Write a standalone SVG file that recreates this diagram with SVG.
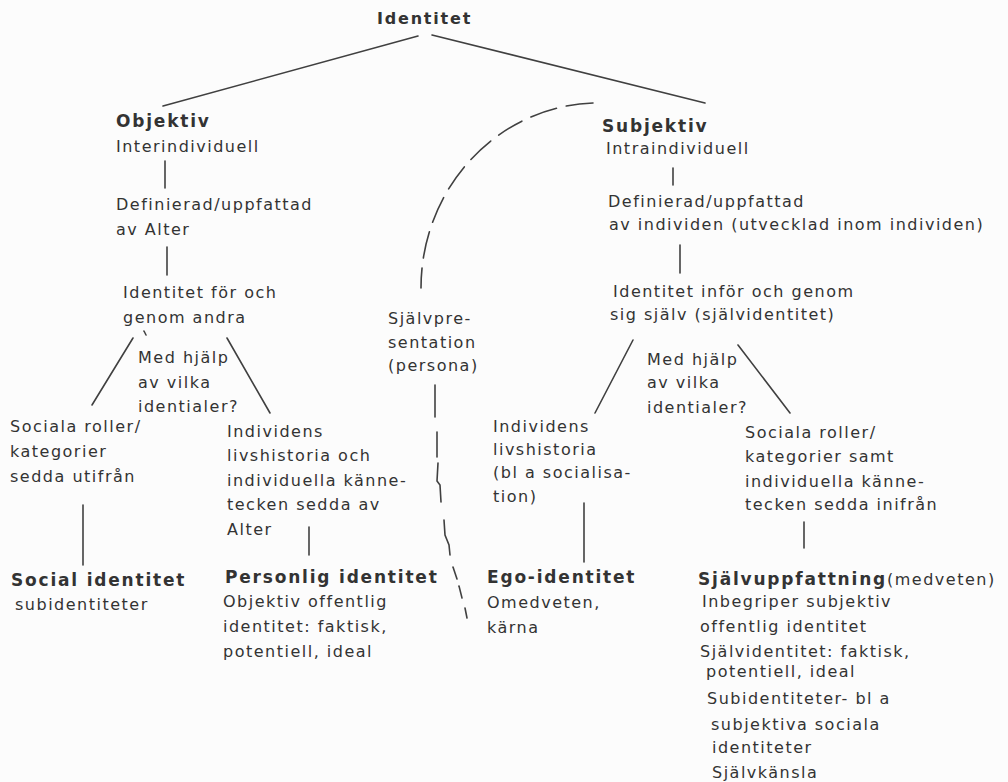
<svg xmlns="http://www.w3.org/2000/svg" width="1008" height="782" viewBox="0 0 1008 782">
<style>
text{font-family:"DejaVu Sans","Liberation Sans",sans-serif;font-size:16px;letter-spacing:1.5px;fill:#333}
.b{font-weight:bold;font-size:17px;letter-spacing:1.8px}
.t{font-weight:bold;font-size:16px;letter-spacing:1.8px}
.c line,.c path{stroke:#404040;stroke-width:1.6;fill:none;stroke-linecap:round}
.d{stroke-dasharray:27 10}
</style>
<rect width="1008" height="782" fill="#fcfcfc"/>
<g id="connectors" class="c">
<line x1="418" y1="36" x2="163" y2="106"/>
<line x1="432" y1="35" x2="705" y2="103"/>
<line x1="165" y1="161" x2="165" y2="188"/>
<line x1="167" y1="247" x2="167" y2="275"/>
<line x1="133" y1="338" x2="92" y2="405"/>
<line x1="227" y1="338" x2="270" y2="413"/>
<line x1="83" y1="505" x2="83" y2="565"/>
<line x1="309" y1="527" x2="309" y2="555"/>
<line x1="673" y1="168" x2="673" y2="185"/>
<line x1="680" y1="245" x2="680" y2="273"/>
<line x1="633" y1="340" x2="595" y2="413"/>
<line x1="738" y1="345" x2="790" y2="413"/>
<line x1="584" y1="503" x2="584" y2="562"/>
<line x1="804" y1="522" x2="804" y2="548"/>
<line x1="144" y1="331" x2="146" y2="335"/>
<path class="d" d="M 593 103 A 178 185 0 0 0 421 288"/>
<line x1="435" y1="385" x2="435" y2="417"/>
<line x1="437" y1="432" x2="437" y2="457"/>
<path d="M 438 463 L 437 481 L 440 485 L 441 502"/>
<path d="M 444 520 L 445 535 L 449 545 L 450 555"/>
<line x1="453" y1="567" x2="457" y2="579"/>
<line x1="459" y1="586" x2="462" y2="598"/>
<line x1="465" y1="608" x2="467" y2="618"/>
</g>
<g id="identitet"><text class="t" x="377" y="24">Identitet</text></g>
<g id="objektiv"><text class="b" x="116" y="127">Objektiv</text><text x="116" y="152">Interindividuell</text></g>
<g id="def-alter"><text x="116" y="210">Definierad/uppfattad</text><text x="116" y="235">av Alter</text></g>
<g id="id-andra"><text x="123" y="298">Identitet för och</text><text x="123" y="323">genom andra</text></g>
<g id="fraga-vanster"><text x="138" y="363">Med hjälp</text><text x="138" y="388">av vilka</text><text x="138" y="412">identialer?</text></g>
<g id="sociala-utifran"><text x="10" y="432">Sociala roller/</text><text x="10" y="457">kategorier</text><text x="10" y="482">sedda utifrån</text></g>
<g id="livshistoria-alter"><text x="227" y="437">Individens</text><text x="227" y="461">livshistoria och</text><text x="227" y="486">individuella känne-</text><text x="227" y="510">tecken sedda av</text><text x="227" y="535">Alter</text></g>
<g id="social-identitet"><text class="b" x="11" y="586">Social identitet</text><text x="15" y="610">subidentiteter</text></g>
<g id="personlig-identitet"><text class="b" x="225" y="583">Personlig identitet</text><text x="223" y="607">Objektiv offentlig</text><text x="223" y="632">identitet: faktisk,</text><text x="223" y="657">potentiell, ideal</text></g>
<g id="sjalvpresentation"><text x="388" y="324">Självpre-</text><text x="388" y="348">sentation</text><text x="388" y="371">(persona)</text></g>
<g id="subjektiv"><text class="b" x="602" y="132">Subjektiv</text><text x="606" y="154">Intraindividuell</text></g>
<g id="def-individen"><text x="608" y="207">Definierad/uppfattad</text><text x="609" y="230">av individen (utvecklad inom individen)</text></g>
<g id="id-sig-sjalv"><text x="613" y="297">Identitet inför och genom</text><text x="610" y="320">sig själv (självidentitet)</text></g>
<g id="fraga-hoger"><text x="647" y="365">Med hjälp</text><text x="647" y="388">av vilka</text><text x="647" y="413">identialer?</text></g>
<g id="livshistoria-individ"><text x="493" y="432">Individens</text><text x="493" y="455">livshistoria</text><text x="493" y="478">(bl a socialisa-</text><text x="493" y="502">tion)</text></g>
<g id="sociala-inifran"><text x="745" y="438">Sociala roller/</text><text x="745" y="462">kategorier samt</text><text x="745" y="487">individuella känne-</text><text x="745" y="510">tecken sedda inifrån</text></g>
<g id="ego-identitet"><text class="b" x="487" y="583">Ego-identitet</text><text x="487" y="608">Omedveten,</text><text x="487" y="633">kärna</text></g>
<g id="sjalvuppfattning"><text x="698" y="585"><tspan class="b">Självuppfattning</tspan>(medveten)</text><text x="702" y="607">Inbegriper subjektiv</text><text x="700" y="632">offentlig identitet</text><text x="700" y="657">Självidentitet: faktisk,</text><text x="706" y="677">potentiell, ideal</text><text x="707" y="704">Subidentiteter- bl a</text><text x="711" y="730">subjektiva sociala</text><text x="712" y="753">identiteter</text><text x="712" y="778">Självkänsla</text></g>
</svg>
